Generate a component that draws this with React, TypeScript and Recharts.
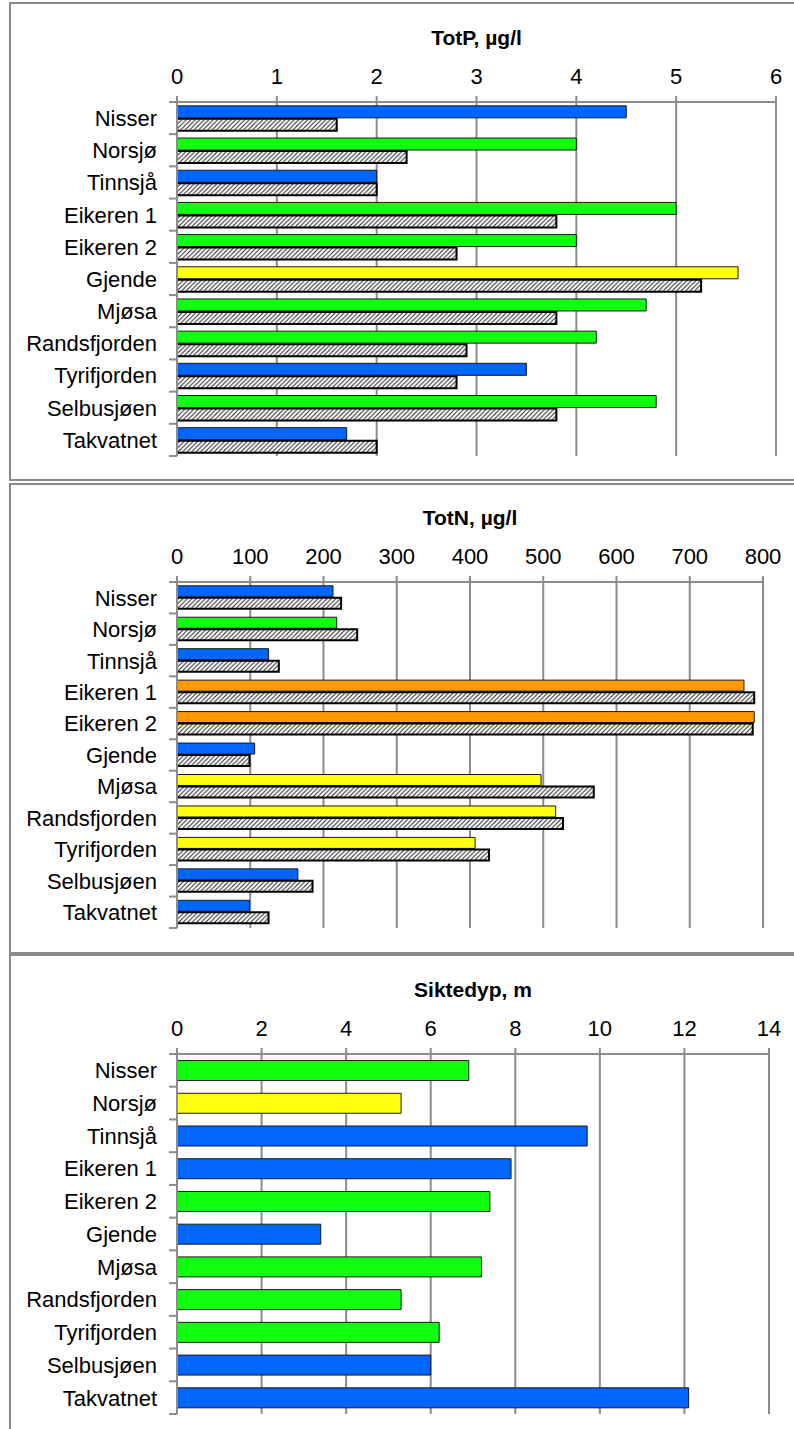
import React from "react";
import { BarChart, Bar, XAxis, YAxis, CartesianGrid, Cell } from "recharts";

const lakes = [
  "Nisser",
  "Norsjø",
  "Tinnsjå",
  "Eikeren 1",
  "Eikeren 2",
  "Gjende",
  "Mjøsa",
  "Randsfjorden",
  "Tyrifjorden",
  "Selbusjøen",
  "Takvatnet",
];

// TotP, µg/l  (farget søyle = målt, skravert = referanse)
const totP = [4.5, 4.0, 2.0, 5.0, 4.0, 5.62, 4.7, 4.2, 3.5, 4.8, 1.7];
const totPRef = [1.6, 2.3, 2.0, 3.8, 2.8, 5.25, 3.8, 2.9, 2.8, 3.8, 2.0];
const totPClass = ["SG", "G", "SG", "G", "G", "M", "G", "G", "SG", "G", "SG"];
const totPTicks = [0, 1, 2, 3, 4, 5, 6];

// TotN, µg/l
const totN = [213, 218, 125, 774, 788, 106, 497, 517, 407, 165, 99];
const totNRef = [224, 246, 139, 788, 786, 99, 569, 527, 426, 185, 125];
const totNClass = ["SG", "G", "SG", "D", "D", "SG", "M", "M", "M", "SG", "SG"];
const totNTicks = [0, 100, 200, 300, 400, 500, 600, 700, 800];

// Siktedyp, m
const sikt = [6.9, 5.3, 9.7, 7.9, 7.4, 3.4, 7.2, 5.3, 6.2, 6.0, 12.1];
const siktClass = ["G", "M", "SG", "SG", "G", "SG", "G", "G", "G", "SG", "SG"];
const siktTicks = [0, 2, 4, 6, 8, 10, 12, 14];

const CLASS_COLOR: Record<string, string> = {
  SG: "#0066ff",
  G: "#12ff12",
  M: "#ffff10",
  D: "#ff9900",
};

const GRID = "#8c8c8c";
const FONT = 'Arial, "Liberation Sans", sans-serif';
const LABEL_SIZE = 22;

function LakeTick(props: any) {
  const { x, y, payload, index, band } = props;
  const ax = x + 20;
  const half = band / 2;
  return (
    <g>
      <line x1={ax - 8} x2={ax} y1={y - half} y2={y - half} stroke={GRID} strokeWidth={2} />
      {index === lakes.length - 1 && (
        <line x1={ax - 8} x2={ax} y1={y + half} y2={y + half} stroke={GRID} strokeWidth={2} />
      )}
      <text x={x} y={y} dy="0.36em" textAnchor="end" fontSize={LABEL_SIZE} fill="#000">
        {payload.value}
      </text>
    </g>
  );
}

function Panel({
  top,
  height,
  plotTop,
  plotBottom,
  plotRight,
  title,
  values,
  refs,
  classes,
  ticks,
  gap,
}: {
  top: number;
  height: number;
  plotTop: number;
  plotBottom: number;
  plotRight: number;
  title: string;
  values: number[];
  refs?: number[];
  classes: string[];
  ticks: number[];
  gap: string;
}) {
  const data = lakes.map((name, i) => ({
    name,
    measured: values[i],
    reference: refs ? refs[i] : undefined,
  }));
  const band = (plotBottom - plotTop) / lakes.length;
  const axisH = 40;

  return (
    <div style={{ position: "absolute", left: 0, top, width: 794, height }}>
      <div
        style={{
          position: "absolute",
          left: 177,
          width: plotRight - 177,
          top: plotTop - 76,
          lineHeight: "24px",
          textAlign: "center",
          fontWeight: "bold",
          fontSize: 21,
        }}
      >
        {title}
      </div>
      <BarChart
        width={794}
        height={height}
        data={data}
        layout="vertical"
        barCategoryGap={gap}
        barGap={1}
        margin={{ top: plotTop - axisH, right: 794 - plotRight, bottom: height - plotBottom, left: 0 }}
      >
        <CartesianGrid horizontal={false} stroke={GRID} strokeWidth={2} />
        <XAxis
          type="number"
          orientation="top"
          height={axisH}
          domain={[ticks[0], ticks[ticks.length - 1]]}
          ticks={ticks}
          interval={0}
          tickSize={6}
          tickMargin={12}
          axisLine={{ stroke: GRID, strokeWidth: 2 }}
          tickLine={{ stroke: GRID, strokeWidth: 2 }}
          tick={{ fontSize: LABEL_SIZE, fill: "#000" }}
        />
        <YAxis
          type="category"
          dataKey="name"
          width={177}
          interval={0}
          tickSize={8}
          tickMargin={12}
          axisLine={{ stroke: GRID, strokeWidth: 2 }}
          tickLine={false}
          tick={(p: any) => <LakeTick {...p} band={band} />}
        />
        <Bar dataKey="measured" stroke="#1a1a1a" strokeWidth={1} isAnimationActive={false}>
          {data.map((_, i) => (
            <Cell key={i} fill={CLASS_COLOR[classes[i]]} />
          ))}
        </Bar>
        {refs && (
          <Bar
            dataKey="reference"
            fill="url(#hatch)"
            stroke="#000"
            strokeWidth={2}
            isAnimationActive={false}
          />
        )}
      </BarChart>
    </div>
  );
}

export default function App() {
  const frame: React.CSSProperties = {
    position: "absolute",
    left: 9,
    width: 820,
    border: "2px solid #8a8a8a",
    boxSizing: "border-box",
  };
  return (
    <div
      style={{
        position: "fixed",
        left: 0,
        top: 0,
        width: 794,
        height: 1429,
        overflow: "hidden",
        background: "#fff",
        fontFamily: FONT,
        color: "#000",
      }}
    >
      <svg width={0} height={0} style={{ position: "absolute" }}>
        <defs>
          <pattern id="hatch" patternUnits="userSpaceOnUse" width={4.5} height={4.5}>
            <rect width={4.5} height={4.5} fill="#fff" />
            <path
              d="M-1,1 l2,-2 M0,4.5 l4.5,-4.5 M3.5,5.5 l2,-2"
              stroke="#222"
              strokeWidth={1}
            />
          </pattern>
        </defs>
      </svg>

      <div style={{ ...frame, top: 2, height: 479 }} />
      <div style={{ ...frame, top: 483, height: 471 }} />
      <div style={{ ...frame, top: 954, height: 520 }} />

      <Panel
        top={0}
        height={480}
        plotTop={102}
        plotBottom={456}
        plotRight={776}
        title="TotP, µg/l"
        values={totP}
        refs={totPRef}
        classes={totPClass}
        ticks={totPTicks}
        gap="12%"
      />
      <Panel
        top={480}
        height={474}
        plotTop={102}
        plotBottom={448}
        plotRight={763}
        title="TotN, µg/l"
        values={totN}
        refs={totNRef}
        classes={totNClass}
        ticks={totNTicks}
        gap="12%"
      />
      <Panel
        top={955}
        height={474}
        plotTop={99}
        plotBottom={459}
        plotRight={769}
        title="Siktedyp, m"
        values={sikt}
        classes={siktClass}
        ticks={siktTicks}
        gap="20%"
      />
    </div>
  );
}
